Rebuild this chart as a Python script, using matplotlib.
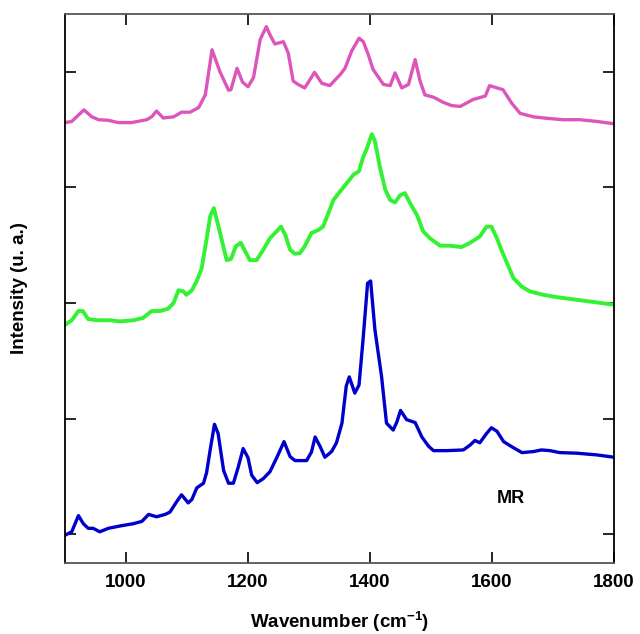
import matplotlib.pyplot as plt
import numpy as np

plt.rcParams['font.family'] = 'Liberation Sans'
plt.rcParams['mathtext.fontset'] = 'custom'
plt.rcParams['mathtext.bf'] = 'Liberation Sans:bold'
plt.rcParams['mathtext.rm'] = 'Liberation Sans:bold'

# top spectrum (magenta)
x_pink = [900, 911, 931, 944, 955, 971, 987, 1009, 1034, 1042, 1050, 1061, 1078, 1091, 1105,
          1119, 1130, 1141, 1154, 1168, 1172, 1182, 1191, 1200, 1209, 1220, 1230, 1236, 1244,
          1258, 1266, 1274, 1282, 1293, 1309, 1321, 1334, 1351, 1359, 1370, 1382, 1389, 1397,
          1405, 1422, 1433, 1441, 1452, 1463, 1474, 1482, 1490, 1504, 1520, 1534, 1548, 1569,
          1589, 1596, 1605, 1618, 1632, 1646, 1668, 1690, 1717, 1744, 1772, 1800]
y_pink = [3.81, 3.82, 3.92, 3.86, 3.835, 3.83, 3.81, 3.81, 3.835, 3.86, 3.91, 3.85, 3.86, 3.90, 3.90,
          3.94, 4.05, 4.44, 4.25, 4.09, 4.095, 4.28, 4.16, 4.12, 4.20, 4.53, 4.64, 4.57, 4.49,
          4.51, 4.41, 4.17, 4.14, 4.11, 4.245, 4.15, 4.13, 4.225, 4.28, 4.43, 4.54, 4.51, 4.40,
          4.27, 4.14, 4.13, 4.24, 4.11, 4.14, 4.355, 4.17, 4.05, 4.03, 3.985, 3.957, 3.95, 4.01,
          4.04, 4.13, 4.115, 4.095, 3.98, 3.89, 3.86, 3.847, 3.835, 3.835, 3.82, 3.80]

# middle spectrum (green)
x_green = [900, 911, 922, 929, 938, 952, 974, 990, 1012, 1028, 1042, 1056, 1069, 1078, 1086,
           1094, 1099, 1108, 1116, 1124, 1132, 1138, 1144, 1153, 1165, 1172, 1180, 1188, 1195,
           1203, 1214, 1225, 1236, 1247, 1254, 1261, 1269, 1277, 1285, 1293, 1304, 1315, 1323,
           1332, 1340, 1351, 1364, 1373, 1382, 1388, 1395, 1403, 1408, 1416, 1425, 1433, 1441,
           1449, 1457, 1466, 1477, 1487, 1498, 1515, 1531, 1550, 1564, 1580, 1591, 1599, 1608,
           1616, 1627, 1635, 1649, 1662, 1684, 1706, 1739, 1772, 1800]
y_green = [2.06, 2.10, 2.18, 2.18, 2.11, 2.10, 2.10, 2.09, 2.10, 2.12, 2.18, 2.18, 2.20, 2.25, 2.36,
           2.35, 2.32, 2.36, 2.44, 2.55, 2.80, 3.00, 3.07, 2.88, 2.62, 2.63, 2.74, 2.77, 2.70,
           2.62, 2.62, 2.71, 2.81, 2.87, 2.91, 2.84, 2.71, 2.675, 2.68, 2.74, 2.855, 2.88, 2.91,
           3.03, 3.14, 3.215, 3.30, 3.36, 3.39, 3.50, 3.59, 3.71, 3.65, 3.43, 3.23, 3.14, 3.12,
           3.18, 3.20, 3.11, 3.01, 2.87, 2.81, 2.745, 2.745, 2.733, 2.77, 2.825, 2.91, 2.91, 2.81,
           2.70, 2.565, 2.465, 2.39, 2.35, 2.32, 2.30, 2.277, 2.254, 2.234]

# bottom spectrum (blue, MR)
x_blue = [900, 911, 922, 930, 938, 946, 957, 971, 990, 1012, 1026, 1037, 1050, 1064, 1072,
          1083, 1091, 1102, 1108, 1116, 1127, 1132, 1138, 1145, 1151, 1160, 1168, 1176, 1184,
          1192, 1200, 1206, 1215, 1225, 1236, 1247, 1259, 1269, 1277, 1296, 1304, 1310, 1318,
          1326, 1337, 1345, 1354, 1361, 1366, 1375, 1382, 1389, 1396, 1401, 1408, 1419, 1427,
          1438, 1444, 1450, 1460, 1474, 1485, 1496, 1504, 1526, 1553, 1564, 1572, 1580, 1591,
          1599, 1608, 1619, 1632, 1649, 1668, 1681, 1695, 1711, 1739, 1772, 1800]
y_blue = [0.24, 0.27, 0.41, 0.34, 0.30, 0.30, 0.27, 0.30, 0.32, 0.34, 0.36, 0.42, 0.40, 0.42, 0.44,
          0.53, 0.59, 0.52, 0.55, 0.65, 0.69, 0.78, 0.98, 1.20, 1.12, 0.80, 0.69, 0.69, 0.83,
          0.99, 0.91, 0.76, 0.695, 0.73, 0.79, 0.91, 1.05, 0.92, 0.886, 0.886, 0.96, 1.09, 1.01,
          0.915, 0.964, 1.04, 1.21, 1.53, 1.61, 1.47, 1.54, 1.96, 2.42, 2.44, 2.02, 1.61, 1.21,
          1.15, 1.22, 1.32, 1.24, 1.215, 1.09, 1.01, 0.972, 0.972, 0.978, 1.02, 1.06, 1.04, 1.12,
          1.17, 1.14, 1.05, 1.007, 0.955, 0.964, 0.978, 0.972, 0.955, 0.95, 0.935, 0.915]

fig = plt.figure(figsize=(6.4, 6.34), dpi=100)
ax = fig.add_axes([0.1016, 0.112, 0.8578, 0.866])

ax.plot(x_pink, y_pink, color='#DD55BB', lw=2.4, solid_joinstyle='round')
ax.plot(x_green, y_green, color='#33F233', lw=2.8, solid_joinstyle='round')
ax.plot(x_blue, y_blue, color='#0000CC', lw=2.4, solid_joinstyle='round')

ax.text(1631, 0.56, 'MR', fontsize=13, fontweight='bold', ha='center', va='center')

ax.set_xlim(900, 1800)
ax.set_ylim(0, 4.75)
ax.set_xticks([1000, 1200, 1400, 1600, 1800])
ax.set_yticks([0.25, 1.25, 2.25, 3.25, 4.25])
ax.set_yticklabels([])
ax.tick_params(direction='in', length=8, width=1.2, top=True, right=True,
               labelsize=13.5, pad=8)
for lab in ax.get_xticklabels():
    lab.set_fontweight('bold')

for s in ax.spines.values():
    s.set_linewidth(1.3)
ax.spines['top'].set_color('#555555')
ax.spines['bottom'].set_color('#555555')

ax.set_xlabel(r'Wavenumber (cm$^{\mathbf{-1}}$)', fontsize=13.5, fontweight='bold')
ax.set_ylabel('Intensity (u. a.)', fontsize=13.5, fontweight='bold')
ax.xaxis.set_label_coords(0.5, -0.085)
ax.yaxis.set_label_coords(-0.068, 0.5)

fig.savefig('out.png', dpi=100)
